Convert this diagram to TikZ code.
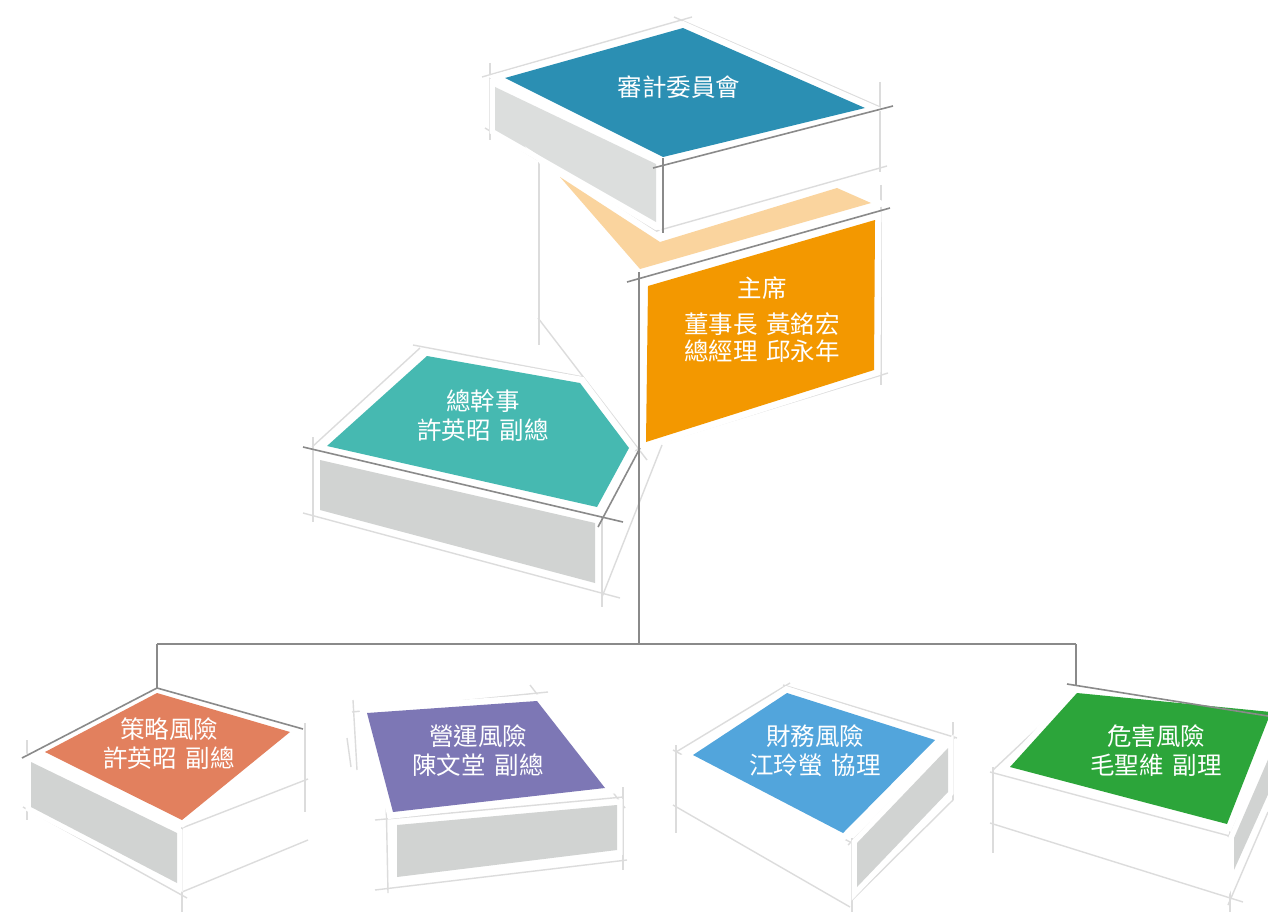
\documentclass[tikz,border=0pt]{standalone}
\usepackage{fontspec}
\newfontfamily\cjk{Noto Sans CJK TC}
\definecolor{skc}{HTML}{DCDCDC}
\definecolor{dkc}{HTML}{8A8A8A}
\definecolor{grayA}{HTML}{DCDEDD}
\definecolor{grayB}{HTML}{D1D3D2}
\definecolor{cAudit}{HTML}{2B8FB3}
\definecolor{cPeach}{HTML}{FAD49E}
\definecolor{cChair}{HTML}{F39800}
\definecolor{cSec}{HTML}{46B9B1}
\definecolor{cStrat}{HTML}{E2805E}
\definecolor{cOper}{HTML}{7D77B5}
\definecolor{cFin}{HTML}{52A5DC}
\definecolor{cHaz}{HTML}{2CA53A}
\newcommand{\gap}{\hspace{0.36em}}
\begin{document}
\begin{tikzpicture}[x=1pt,y=-1pt,
  sk/.style={draw=skc,line width=1.4pt},
  dk/.style={draw=dkc,line width=1.6pt},
  face/.style={preaction={draw=white,line width=13pt,line join=miter}},
  side/.style={preaction={draw=white,line width=11pt,line join=miter},fill=grayB},
  lbl/.style={text=white,font=\cjk\fontsize{24.5}{30}\selectfont,align=center,inner sep=0pt}]
\useasboundingbox (0,0) rectangle (1268,912);
\clip (0,0) rectangle (1268,912);
\fill[white] (0,0) rectangle (1268,912);

% ---------- sketch lines ----------
% top box
\draw[sk] (482,77) -- (692,17);
\draw[sk] (674,17) -- (880,107);
\draw[sk] (490,63) -- (490,140);
\draw[sk] (485,128) -- (657,232);
\draw[sk] (880,82) -- (880,172);
\draw[sk] (653,232) -- (887,166);
% chair / trunk area
\draw[sk] (539,150) -- (539,345);
\draw[sk] (540,157) -- (640,270);
\draw[sk] (538,318) -- (647,460);
\draw[sk] (881,185) -- (881,385);
\draw[sk] (627,453) -- (888,373);
% secretary box
\draw[sk] (413,345) -- (583,377);
\draw[sk] (312,447) -- (420,348);
\draw[sk] (313,437) -- (313,522);
\draw[sk] (303,513) -- (620,598);
\draw[sk] (602,517) -- (602,607);
\draw[sk] (602,597) -- (662,445);
% strategy
\draw[sk] (27,740) -- (27,820);
\draw[sk] (23,807) -- (187,898);
\draw[sk] (182,822) -- (182,912);
\draw[sk] (182,828) -- (308,779);
\draw[sk] (182,892) -- (308,840);
\draw[sk] (305,723) -- (305,812);
% operation
\draw[sk] (352,712) -- (548,692);
\draw[sk] (530,685) -- (625,808);
\draw[sk] (353,700) -- (357,770);
\draw[sk] (347,738) -- (351,767);
\draw[sk] (375,820) -- (623,797);
\draw[sk] (386,793) -- (388,893);
\draw[sk] (375,890) -- (627,860);
\draw[sk] (623,787) -- (623,870);
% finance
\draw[sk] (676,752) -- (790,683);
\draw[sk] (783,685) -- (957,738);
\draw[sk] (673,750) -- (852,843);
\draw[sk] (676,745) -- (676,833);
\draw[sk] (673,805) -- (850,907);
\draw[sk] (852,838) -- (852,912);
\draw[sk] (953,722) -- (953,800);
\draw[sk] (852,900) -- (953,800);
\draw[sk] (848,845) -- (955,737);
% hazard
\draw[sk] (990,772) -- (1237,838);
\draw[sk] (993,767) -- (993,853);
\draw[sk] (990,823) -- (1243,902);
\draw[sk] (1230,830) -- (1230,912);
\draw[sk] (993,770) -- (1075,693);
\draw[sk] (1228,837) -- (1268,760);
\draw[sk] (1228,905) -- (1268,812);

% ---------- side faces ----------
\path[side,fill=grayA] (495,87) -- (656,164) -- (656,222) -- (495,130) -- cycle;
\path[side] (320,460) -- (595,523) -- (595,583) -- (320,510) -- cycle;
\path[side] (31,762) -- (177,833) -- (177,883) -- (31,807) -- cycle;
\path[side] (397,825) -- (617,805) -- (617,850) -- (397,877) -- cycle;
\path[side] (857,843) -- (948,748) -- (948,792) -- (857,887) -- cycle;
\path[side] (1234,838) -- (1270,755) -- (1270,790) -- (1234,870) -- cycle;

% ---------- coloured faces ----------
\path[face,fill=cPeach] (560,177) -- (660,242) -- (837,188) -- (871,203) -- (640,269) -- cycle;
\path[face,fill=cAudit] (505,78) -- (683,28) -- (865,108) -- (663,157) -- cycle;
\path[face,fill=cChair] (648,286) -- (875,220) -- (874,370) -- (646,442) -- cycle;
\path[face,fill=cSec] (427,356) -- (580,383) -- (629,448) -- (597,507) -- (327,446) -- cycle;
\path[face,fill=cStrat] (45,752) -- (157,693) -- (290,732) -- (182,820) -- cycle;
\path[face,fill=cOper] (367,713) -- (537,701) -- (605,788) -- (393,812) -- cycle;
\path[face,fill=cFin] (693,755) -- (787,693) -- (935,740) -- (843,833) -- cycle;
\path[face,fill=cHaz] (1010,767) -- (1077,693) -- (1271,712) -- (1227,824) -- cycle;

% ---------- dark construction lines ----------
\draw[dk] (653,168) -- (893,106);
\draw[dk] (663,158) -- (663,233);
\draw[dk] (627,282) -- (890,208);
\draw[dk] (303,447) -- (623,522);
\draw[dk] (598,527) -- (640,448);
\draw[dk] (22,758) -- (157,688) -- (303,729);
\draw[dk] (1067,684) -- (1268,716);

% ---------- connectors ----------
\coordinate (top) at (639,272);
\coordinate (hub) at (639,644);
\coordinate (bl) at (157,644);
\coordinate (br) at (1076,644);
\coordinate (blend) at (157,688);
\coordinate (brend) at (1076,686);
\draw[dk] (top) -- (hub);
\draw[dk] (bl) -- (br);
\draw[dk] (bl) -- (blend);
\draw[dk] (br) -- (brend);

% ---------- labels ----------
\node[lbl] (audit) at (679,87) {審計委員會};
\node[lbl] (chair1) at (762,288) {主席};
\node[lbl] (chair2) at (762,338) {董事長\gap 黃銘宏\\[-3pt]總經理\gap 邱永年};
\node[lbl] (sec) at (483,415) {總幹事\\[-1pt]許英昭\gap 副總};
\node[lbl] (strat) at (169,744) {策略風險\\[-1pt]許英昭\gap 副總};
\node[lbl] (oper) at (478,751) {營運風險\\[-1pt]陳文堂\gap 副總};
\node[lbl] (fin) at (815,751) {財務風險\\[-1pt]江玲螢\gap 協理};
\node[lbl] (haz) at (1156,751) {危害風險\\[-1pt]毛聖維\gap 副理};
\end{tikzpicture}
\end{document}
